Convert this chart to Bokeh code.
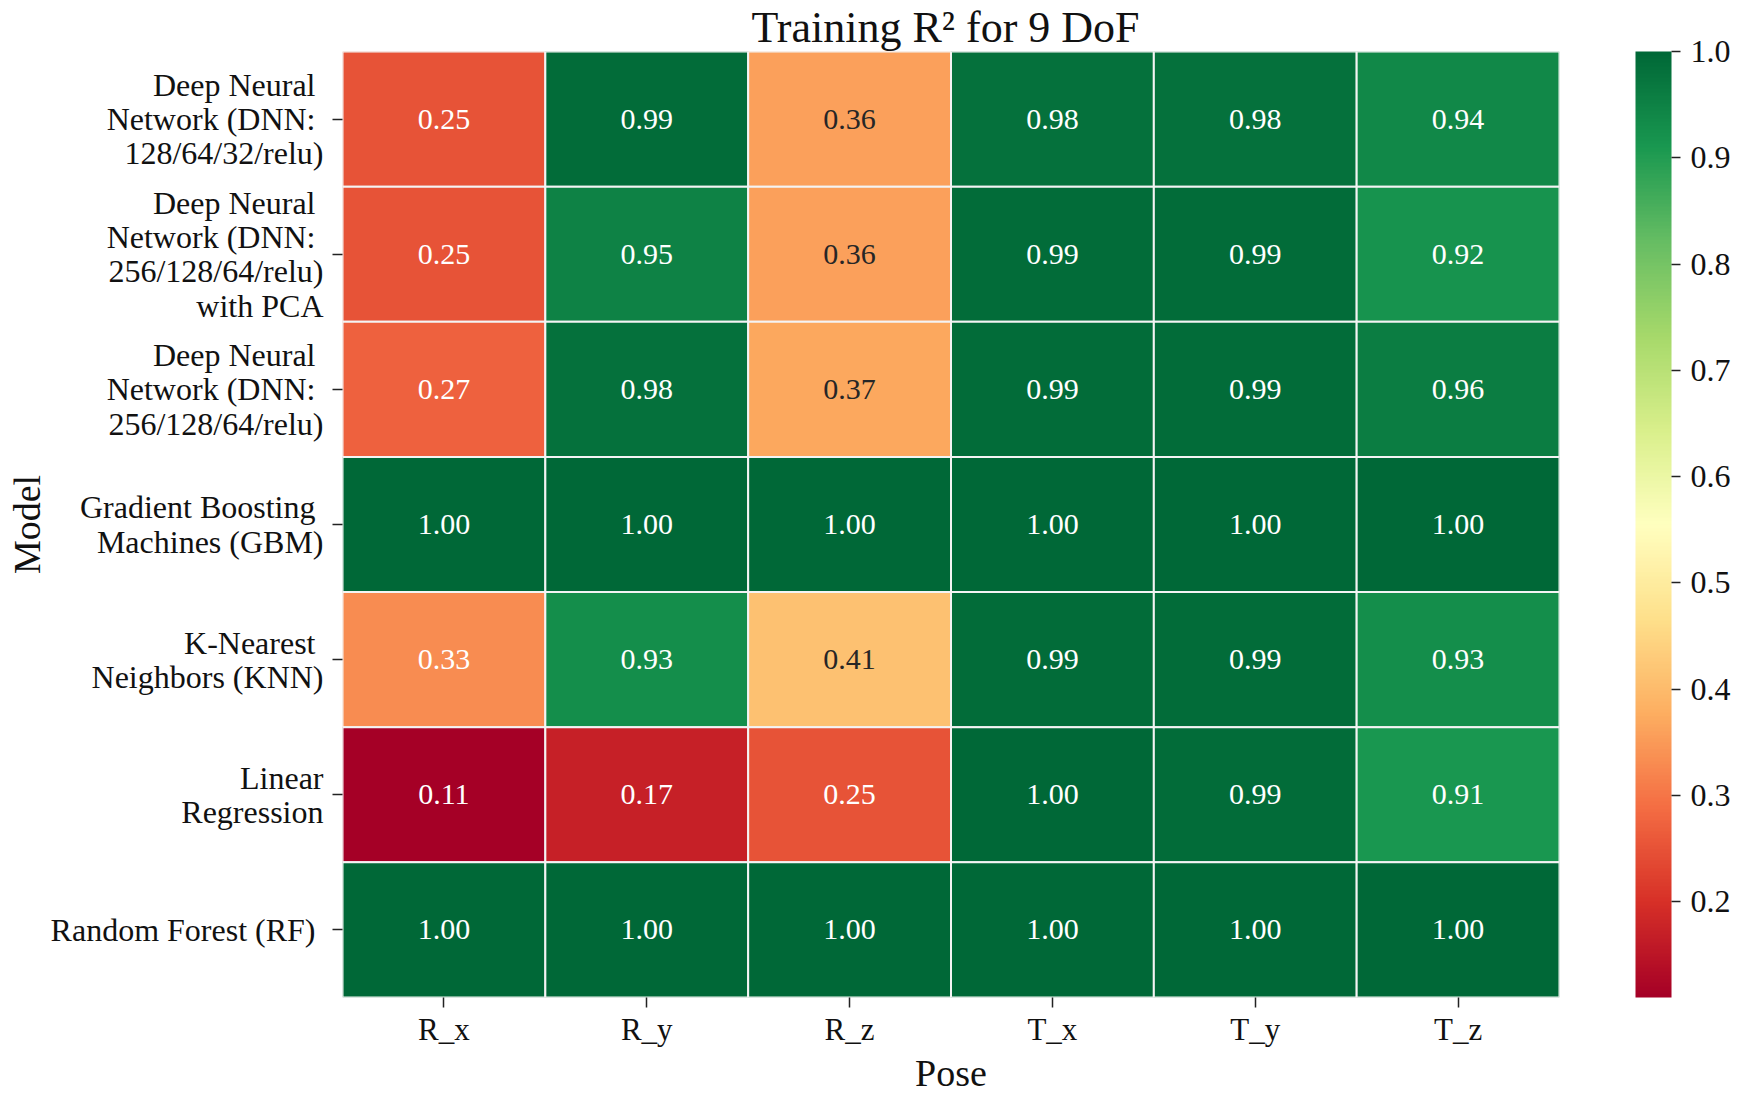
import numpy as np
from bokeh.plotting import figure
from bokeh.models import (ColumnDataSource, LinearColorMapper, ColorBar, FixedTicker,
                          PrintfTickFormatter, FactorRange)
from bokeh.transform import transform
from bokeh.core.properties import value
from bokeh.embed import file_html
from bokeh.resources import INLINE

# ---------------- data ----------------
poses = ["R_x", "R_y", "R_z", "T_x", "T_y", "T_z"]
models = [
    "Deep Neural \nNetwork (DNN: \n128/64/32/relu)",
    "Deep Neural \nNetwork (DNN: \n256/128/64/relu)\nwith PCA",
    "Deep Neural \nNetwork (DNN: \n256/128/64/relu)",
    "Gradient Boosting \nMachines (GBM)",
    "K-Nearest \nNeighbors (KNN)",
    "Linear\nRegression",
    "Random Forest (RF) ",
]
dnn_128 = [0.25, 0.99, 0.36, 0.98, 0.98, 0.94]
dnn_256_pca = [0.25, 0.95, 0.36, 0.99, 0.99, 0.92]
dnn_256 = [0.27, 0.98, 0.37, 0.99, 0.99, 0.96]
gbm = [1.00, 1.00, 1.00, 1.00, 1.00, 1.00]
knn = [0.33, 0.93, 0.41, 0.99, 0.99, 0.93]
linreg = [0.11, 0.17, 0.25, 1.00, 0.99, 0.91]
rf = [1.00, 1.00, 1.00, 1.00, 1.00, 1.00]
rows = [dnn_128, dnn_256_pca, dnn_256, gbm, knn, linreg, rf]
cbar_ticks = [0.2, 0.3, 0.4, 0.5, 0.6, 0.7, 0.8, 0.9, 1.0]

# ---------------- colormap (RdYlGn, 256 steps) ----------------
base = ['#a50026', '#d73027', '#f46d43', '#fdae61', '#fee08b', '#ffffbf',
        '#d9ef8b', '#a6d96a', '#66bd63', '#1a9850', '#006837']
base_rgb = np.array([[int(h[i:i + 2], 16) for i in (1, 3, 5)] for h in base], dtype=float)
pos = np.linspace(0, 1, len(base))
t = np.linspace(0, 1, 256)
pal_rgb = np.stack([np.interp(t, pos, base_rgb[:, k]) for k in range(3)], axis=1)
palette = ['#%02x%02x%02x' % tuple(int(round(c)) for c in row) for row in pal_rgb]

all_vals = [v for r in rows for v in r]
vmin, vmax = min(all_vals), max(all_vals)
mapper = LinearColorMapper(palette=palette, low=vmin, high=vmax)


def lum(rgb):
    c = np.array(rgb) / 255.0
    c = np.where(c <= 0.03928, c / 12.92, ((c + 0.055) / 1.055) ** 2.4)
    return 0.2126 * c[0] + 0.7152 * c[1] + 0.0722 * c[2]


xs, ys, vals, labels, tcolors = [], [], [], [], []
for m, r in zip(models, rows):
    for p_, v in zip(poses, r):
        xs.append(p_)
        ys.append(m)
        vals.append(v)
        labels.append("%.2f" % v)
        idx = int(np.clip(np.floor((v - vmin) / (vmax - vmin) * 256), 0, 255))
        tcolors.append("#262626" if lum(pal_rgb[idx]) > 0.408 else "#ffffff")

src = ColumnDataSource(dict(x=xs, y=ys, v=vals, label=labels, tc=tcolors))

FONT = "Liberation Serif"
FRAME_W, FRAME_H = 1217, 946
LEFT, TOP, BOTTOM = 342, 44, 80
RIGHT = 1733 - LEFT - FRAME_W

p = figure(frame_width=FRAME_W, frame_height=FRAME_H, x_range=FactorRange(*poses),
           y_range=FactorRange(*list(reversed(models))),
           output_backend="svg", toolbar_location=None,
           min_border_left=LEFT, min_border_right=RIGHT,
           min_border_top=TOP, min_border_bottom=BOTTOM)

p.rect(x="x", y="y", width=1, height=1, source=src,
       fill_color=transform("v", mapper), line_color="#f4f4f4", line_width=2)
p.text(x="x", y="y", text="label", source=src, text_color="tc",
       text_font=value(FONT), text_font_size="30px",
       text_align="center", text_baseline="middle")

p.title.text = "Training  R² for 9 DoF"
p.title.text_font = FONT
p.title.text_font_size = "44px"
p.title.text_font_style = "normal"
p.title.text_color = "#111111"
p.title.align = "center"
p.title.standoff = 0
p.title.text_line_height = 1.0

p.outline_line_color = None
p.grid.grid_line_color = None
for ax in (p.xaxis, p.yaxis):
    ax.axis_line_color = None
    ax.major_tick_in = 0
    ax.major_tick_out = 10
    ax.major_tick_line_color = "#222222"
    ax.major_tick_line_width = 1.5
    ax.major_label_text_font = FONT
    ax.major_label_text_color = "#111111"
    ax.axis_label_text_font = FONT
    ax.axis_label_text_font_size = "38px"
    ax.axis_label_text_font_style = "normal"
    ax.axis_label_text_color = "#111111"
    ax.axis_label_text_line_height = 1.0

p.xaxis.major_label_text_font_size = "31px"
p.xaxis.major_label_text_line_height = 1.0
p.yaxis.major_label_text_font_size = "32px"
p.yaxis.major_label_text_line_height = 0.95
p.xaxis.axis_label = "Pose"
p.yaxis.axis_label = "Model"
p.xaxis.major_label_standoff = 4
p.xaxis.axis_label_standoff = 2
p.yaxis.major_label_standoff = 9
p.yaxis.axis_label_standoff = 0
p.yaxis.major_label_text_align = "right"

cb = ColorBar(color_mapper=mapper, width=36, height=FRAME_H,
              location=(FRAME_W + 76, 0),
              ticker=FixedTicker(ticks=cbar_ticks),
              formatter=PrintfTickFormatter(format="%.1f"),
              major_label_text_font=FONT, major_label_text_font_size="32px",
              major_label_text_color="#111111",
              major_tick_in=0, major_tick_out=9, major_tick_line_color="#222222",
              major_tick_line_width=1.5,
              bar_line_color=None, border_line_color=None,
              padding=0, margin=0, label_standoff=10,
              background_fill_color=None, background_fill_alpha=0)
p.add_layout(cb)

open("out.html", "w").write(file_html(p, INLINE))
